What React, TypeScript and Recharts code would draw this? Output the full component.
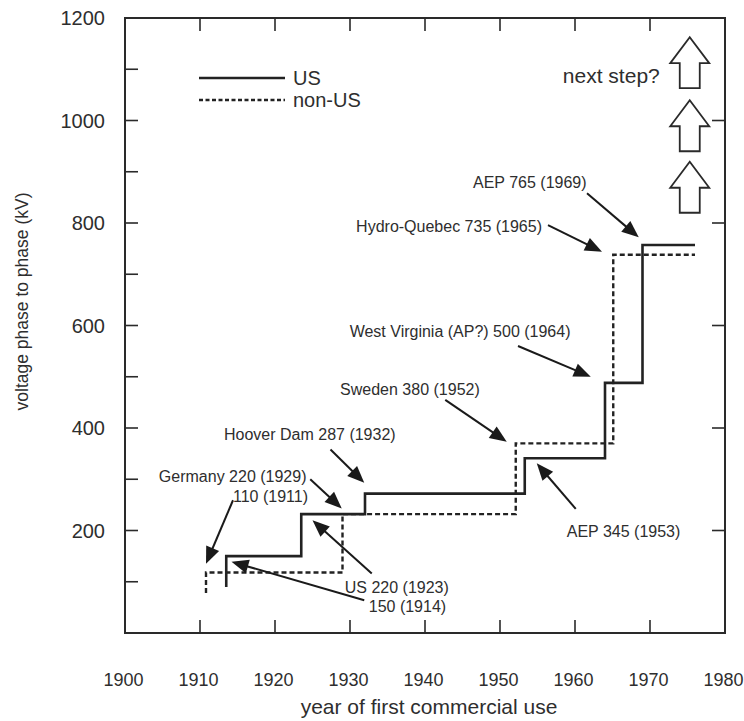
import React from "react";
import {
  LineChart,
  Line,
  XAxis,
  YAxis,
  ReferenceLine,
  ReferenceDot,
  ReferenceArea,
  Customized,
} from "recharts";

const FONT = '"Liberation Sans", Arial, sans-serif';
const INK = "#2a2a2a";
const TEXT = "#2e2e2e";

// step series (year, kV)
const usYears = [1913.5, 1913.5, 1923.5, 1932, 1953.3, 1964, 1969, 1976];
const usKv = [90, 150, 232, 272, 341, 488, 757, 757];
const nonUsYears = [1910.8, 1910.8, 1929, 1952.1, 1965.1, 1976];
const nonUsKv = [78, 118, 232, 370, 738, 738];

const yearTicks = [1900, 1910, 1920, 1930, 1940, 1950, 1960, 1970, 1980];
const innerYearTicks = [1910, 1920, 1930, 1940, 1950, 1960, 1970];
const kvTicks = [200, 400, 600, 800, 1000, 1200];
const kvMinorTicks = [100, 300, 500, 700, 900, 1100];
const kvRightTicks = [200, 400, 600, 800, 1000];
const kvMin = 0;
const kvMax = 1200;
const kvMid = 600;

const seriesNames = ["US", "non-US"];

// annotation texts with their arrows (data units)
const notes = [
  { text: "AEP 765 (1969)", at: [1946.4, 880], anchor: "start", from: [1961.6, 858], to: [1968.5, 772] },
  { text: "Hydro-Quebec 735 (1965)", at: [1955.6, 793], anchor: "end", from: [1956.4, 796], to: [1963.6, 744] },
  { text: "West Virginia (AP?) 500 (1964)", at: [1959.4, 589], anchor: "end", from: [1952.4, 560], to: [1962.1, 500] },
  { text: "Sweden 380 (1952)", at: [1947.3, 475], anchor: "end", from: [1942.7, 455], to: [1950.9, 373] },
  { text: "AEP 345 (1953)", at: [1958.9, 198], anchor: "start", from: [1960.1, 242], to: [1954.9, 331] },
  { text: "Hoover Dam 287 (1932)", at: [1913.2, 388], anchor: "start", from: [1927.4, 358], to: [1931.9, 293] },
  { text: "Germany 220 (1929)", at: [1924.2, 305], anchor: "end", from: [1924.7, 300], to: [1928.9, 243] },
  { text: "110 (1911)", at: [1924.4, 267], anchor: "end", from: [1914.4, 259], to: [1910.8, 135] },
  { text: "US 220 (1923)", at: [1929.3, 90], anchor: "start", from: [1932.9, 116], to: [1925.0, 220] },
  { text: "150 (1914)", at: [1932.5, 52], anchor: "start", from: [1931.9, 64], to: [1914.2, 139] },
];

const nextStepLabel = { text: "next step?", at: [1971.3, 1088] };
const openArrowYear = 1975.3;
const openArrowBases = [1063, 940, 820];

const usData = usYears.map((x, i) => ({ x, v: usKv[i] }));
const nonUsData = nonUsYears.map((x, i) => ({ x, v: nonUsKv[i] }));

function LeftTick({ x, y, payload }: any) {
  return (
    <text x={x - 20} y={y} dy="0.36em" textAnchor="end" fontSize={20} fill={TEXT} fontFamily={FONT}>
      {payload.value}
    </text>
  );
}

function BottomTick({ x, y, payload }: any) {
  return (
    <text x={x - 1.5} y={y + 47} dy="0.36em" textAnchor="middle" fontSize={18} fill={TEXT} fontFamily={FONT}>
      {payload.value}
    </text>
  );
}

// short inward tick: 13px from the first end of a segment toward the second
function stubShape(props: any) {
  const { x1, y1, x2, y2 } = props;
  const dx = x2 - x1;
  const dy = y2 - y1;
  const len = Math.sqrt(dx * dx + dy * dy) || 1;
  return (
    <line
      x1={x1}
      y1={y1}
      x2={x1 + (dx / len) * 13}
      y2={y1 + (dy / len) * 13}
      stroke={INK}
      strokeWidth={1.6}
    />
  );
}

function arrowShape(props: any) {
  const { x1, y1, x2, y2 } = props;
  const dx = x2 - x1;
  const dy = y2 - y1;
  const len = Math.sqrt(dx * dx + dy * dy) || 1;
  const ux = dx / len;
  const uy = dy / len;
  const head = 17;
  const half = 7;
  const bx = x2 - ux * head;
  const by = y2 - uy * head;
  const pts = [
    [x2, y2],
    [bx - uy * half, by + ux * half],
    [bx + uy * half, by - ux * half],
  ]
    .map((p) => p.join(","))
    .join(" ");
  return (
    <g>
      <line x1={x1} y1={y1} x2={bx + ux * 2} y2={by + uy * 2} stroke="#1a1a1a" strokeWidth={2} />
      <polygon points={pts} fill="#1a1a1a" />
    </g>
  );
}

function noteText(text: string, anchor: string, size: number) {
  return (props: any) => (
    <text
      x={props.cx}
      y={props.cy}
      dy="0.36em"
      textAnchor={anchor}
      fontSize={size}
      fill={TEXT}
      fontFamily={FONT}
    >
      {text}
    </text>
  );
}

function openArrow(props: any) {
  const { cx, cy } = props;
  const pts = [
    [cx - 10, cy],
    [cx - 10, cy - 25],
    [cx - 19.5, cy - 25],
    [cx, cy - 51],
    [cx + 19.5, cy - 25],
    [cx + 10, cy - 25],
    [cx + 10, cy],
  ]
    .map((p) => p.join(","))
    .join(" ");
  return <polygon points={pts} fill="#fff" stroke={INK} strokeWidth={1.8} />;
}

function LegendBox() {
  return (
    <g fontFamily={FONT} fontSize={20} fill={TEXT}>
      <line x1={199} x2={285} y1={78} y2={78} stroke="#222" strokeWidth={2.5} />
      <text x={293} y={78} dy="0.36em">{seriesNames[0]}</text>
      <line x1={199} x2={285} y1={100} y2={100} stroke="#222" strokeWidth={2.5} strokeDasharray="4 2.5" />
      <text x={293} y={100} dy="0.36em">{seriesNames[1]}</text>
    </g>
  );
}

export default function App() {
  return (
    <div style={{ position: "absolute", left: 0, top: 0, background: "#fff" }}>
      <LineChart width={744} height={721} margin={{ top: 18, right: 19, bottom: 0, left: 0 }}>
        <XAxis
          dataKey="x"
          type="number"
          domain={[1900, 1980]}
          ticks={yearTicks}
          interval={0}
          height={88}
          tickSize={0}
          tickMargin={0}
          tick={<BottomTick />}
          axisLine={false}
          label={{
            content: (p: any) => (
              <text
                x={p.viewBox.x + p.viewBox.width / 2 + 4}
                y={p.viewBox.y + 73}
                dy="0.36em"
                textAnchor="middle"
                fontSize={21}
                fill={TEXT}
                fontFamily={FONT}
              >
                year of first commercial use
              </text>
            ),
          }}
        />
        <YAxis
          type="number"
          domain={[kvMin, kvMax]}
          ticks={kvTicks}
          interval={0}
          width={125}
          tickSize={0}
          tickMargin={0}
          tick={<LeftTick />}
          axisLine={false}
          label={{
            content: (p: any) => {
              const cx = 22;
              const cy = p.viewBox.y + p.viewBox.height / 2 - 24;
              return (
                <text
                  x={cx}
                  y={cy}
                  dy="0.36em"
                  textAnchor="middle"
                  fontSize={17.5}
                  fill={TEXT}
                  fontFamily={FONT}
                  transform={`rotate(-90 ${cx} ${cy})`}
                >
                  voltage phase to phase (kV)
                </text>
              );
            },
          }}
        />
        <ReferenceArea x1={1900} x2={1980} y1={kvMin} y2={kvMax} fill="none" stroke={INK} strokeWidth={2} />
        {innerYearTicks.map((yr) => (
          <ReferenceLine
            key={"b" + yr}
            segment={[{ x: yr, y: kvMin }, { x: yr, y: kvMid }]}
            shape={stubShape}
          />
        ))}
        {innerYearTicks.map((yr) => (
          <ReferenceLine
            key={"u" + yr}
            segment={[{ x: yr, y: kvMax }, { x: yr, y: kvMid }]}
            shape={stubShape}
          />
        ))}
        {[...kvTicks.slice(0, -1), ...kvMinorTicks].map((v) => (
          <ReferenceLine
            key={"l" + v}
            segment={[{ x: 1900, y: v }, { x: 1940, y: v }]}
            shape={stubShape}
          />
        ))}
        {kvRightTicks.map((v) => (
          <ReferenceLine
            key={"r" + v}
            segment={[{ x: 1980, y: v }, { x: 1940, y: v }]}
            shape={stubShape}
          />
        ))}
        <Line
          data={usData}
          dataKey="v"
          name={seriesNames[0]}
          type="stepAfter"
          stroke="#222"
          strokeWidth={2.6}
          dot={false}
          isAnimationActive={false}
        />
        <Line
          data={nonUsData}
          dataKey="v"
          name={seriesNames[1]}
          type="stepAfter"
          stroke="#222"
          strokeWidth={2.4}
          strokeDasharray="5 3"
          dot={false}
          isAnimationActive={false}
        />
        {notes.map((n, i) => (
          <ReferenceLine
            key={"a" + i}
            segment={[
              { x: n.from[0], y: n.from[1] },
              { x: n.to[0], y: n.to[1] },
            ]}
            shape={arrowShape}
          />
        ))}
        {notes.map((n, i) => (
          <ReferenceDot key={"t" + i} x={n.at[0]} y={n.at[1]} r={0} shape={noteText(n.text, n.anchor, 16)} />
        ))}
        <ReferenceDot
          x={nextStepLabel.at[0]}
          y={nextStepLabel.at[1]}
          r={0}
          shape={noteText(nextStepLabel.text, "end", 21)}
        />
        {openArrowBases.map((b, i) => (
          <ReferenceDot key={"o" + i} x={openArrowYear} y={b} r={0} shape={openArrow} />
        ))}
        <Customized component={LegendBox} />
      </LineChart>
    </div>
  );
}
